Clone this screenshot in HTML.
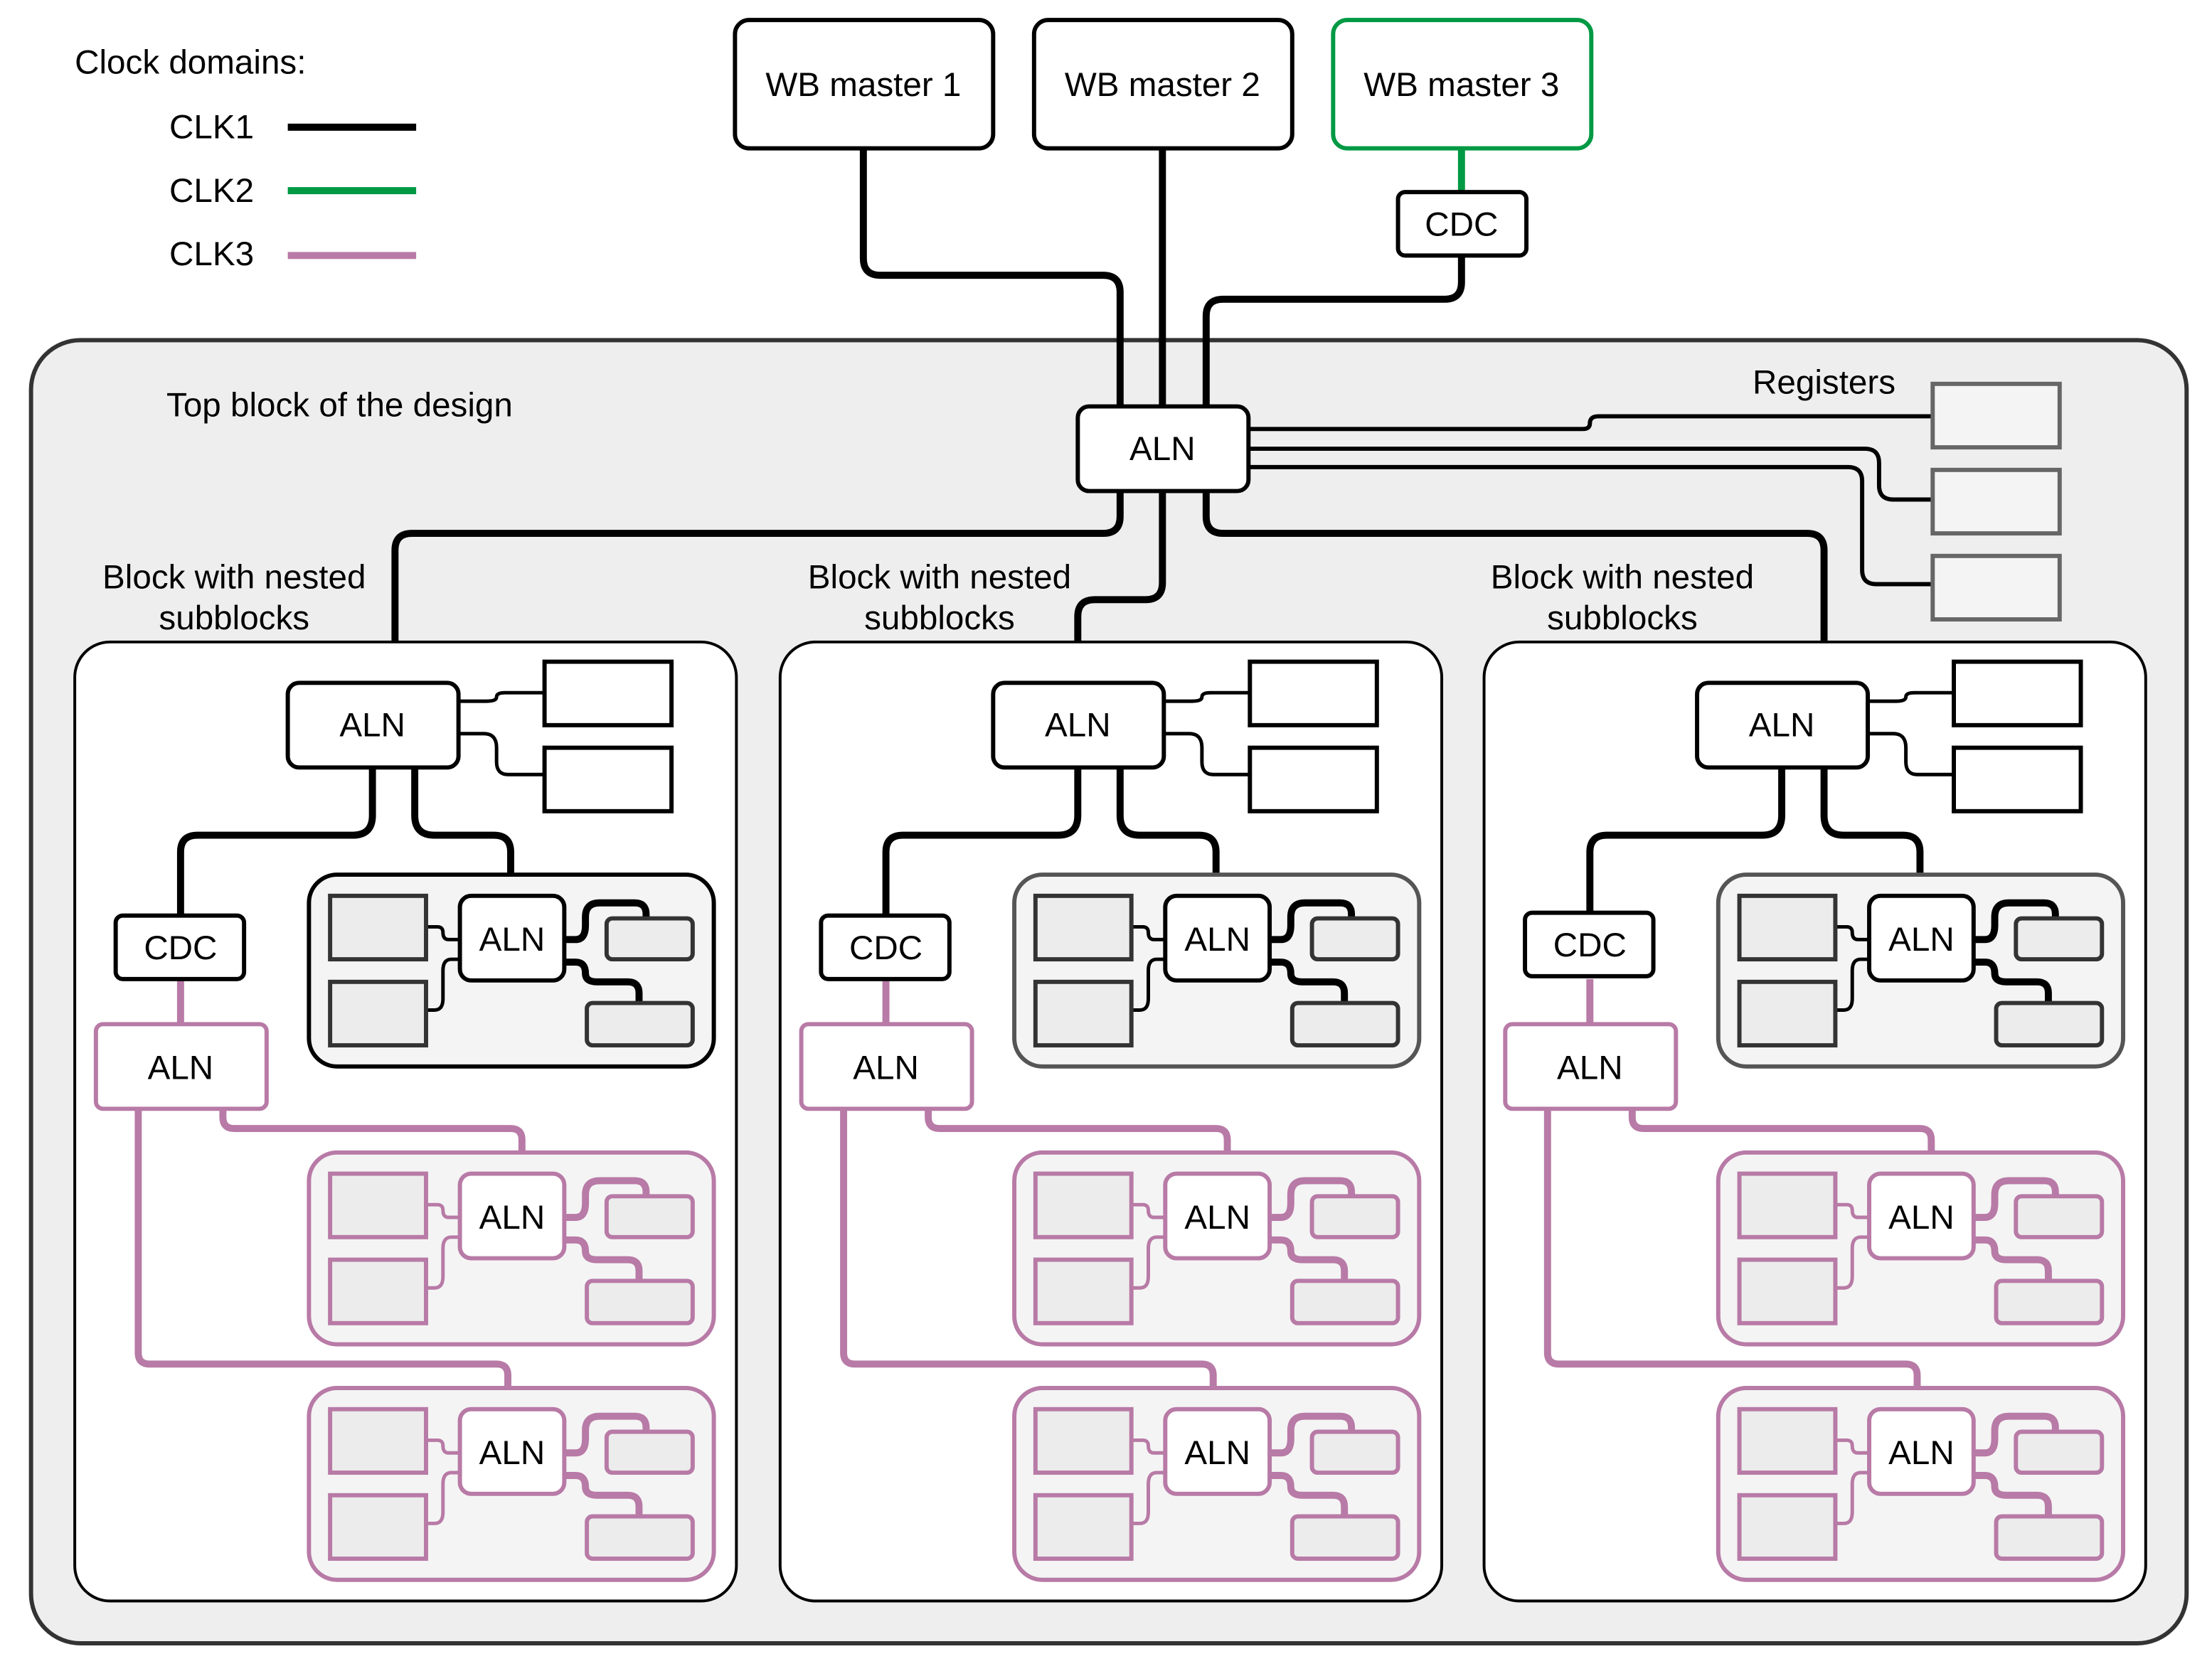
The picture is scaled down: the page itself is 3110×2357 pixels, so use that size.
<!DOCTYPE html>
<html><head><meta charset="utf-8"><style>html,body{margin:0;padding:0;background:#fff}svg{display:block}</style></head>
<body>
<svg xmlns="http://www.w3.org/2000/svg" width="3110" height="2357" viewBox="0 0 1568 1188" font-family="Liberation Sans, sans-serif" font-size="24">
<rect width="1568" height="1188" fill="#fff"/>
<text x="53" y="52">Clock domains:</text>
<text x="120" y="98">CLK1</text><line x1="204" y1="90" x2="295" y2="90" stroke="#000" stroke-width="5"/>
<text x="120" y="143">CLK2</text><line x1="204" y1="135" x2="295" y2="135" stroke="#009944" stroke-width="5"/>
<text x="120" y="188">CLK3</text><line x1="204" y1="181" x2="295" y2="181" stroke="#b87aa6" stroke-width="5"/>
<rect x="22" y="241" width="1528" height="924" rx="35" fill="#eee" stroke="#333" stroke-width="3"/>
<text x="118" y="295">Top block of the design</text>
<text x="1293" y="279" text-anchor="middle">Registers</text>
<g stroke-width="3" fill="#fff">
<rect x="521" y="14" width="183" height="91" rx="10" stroke="#000"/>
<rect x="733" y="14" width="183" height="91" rx="10" stroke="#000"/>
<rect x="945" y="14" width="183" height="91" rx="10" stroke="#009944"/>
</g>
<text x="612" y="68" text-anchor="middle">WB master 1</text>
<text x="824" y="68" text-anchor="middle">WB master 2</text>
<text x="1036" y="68" text-anchor="middle">WB master 3</text>
<line x1="1036" y1="105" x2="1036" y2="136" stroke="#009944" stroke-width="5"/>
<g fill="none" stroke="#000" stroke-width="5">
<path d="M612 105 V183 Q612 195 624 195 H782 Q794 195 794 207 V288"/>
<path d="M824 105 V288"/>
<path d="M1036 181 V200 Q1036 212 1024 212 H867 Q855 212 855 224 V288"/>
<path d="M794 348 V366 Q794 378 782 378 H292 Q280 378 280 390 V484"/>
<path d="M824 348 V413 Q824 425 812 425 H776 Q764 425 764 437 V484"/>
<path d="M855 348 V366 Q855 378 867 378 H1281 Q1293 378 1293 390 V484"/>
</g>
<g fill="none" stroke="#000" stroke-width="3">
<path d="M885 304 H1122 Q1127 304 1127 300 Q1127 295 1133 295 H1370"/>
<path d="M885 318 H1322 Q1332 318 1332 328 V344 Q1332 354 1342 354 H1370"/>
<path d="M885 331 H1310 Q1320 331 1320 341 V404 Q1320 414 1330 414 H1370"/>
</g>
<g fill="#f4f4f4" stroke="#666" stroke-width="3">
<rect x="1370" y="272" width="90" height="45"/><rect x="1370" y="333" width="90" height="45"/><rect x="1370" y="394" width="90" height="45"/>
</g>
<rect x="764" y="288" width="121" height="60" rx="8" fill="#fff" stroke="#000" stroke-width="3"/>
<text x="824" y="326" text-anchor="middle">ALN</text>
<rect x="991" y="136" width="91" height="45" rx="5" fill="#fff" stroke="#000" stroke-width="3"/>
<text x="1036" y="167" text-anchor="middle">CDC</text>

<g>
<rect x="53" y="455" width="469" height="680" rx="25" fill="#fff" stroke="#000" stroke-width="2"/>
<text x="166" y="417" text-anchor="middle">Block with nested</text>
<text x="166" y="446" text-anchor="middle">subblocks</text>
<g fill="none" stroke="#000" stroke-width="2.5">
<path d="M325 497 H345 Q352 497 352 494 Q352 491 358 491 H386"/>
<path d="M325 520 H343 Q352 520 352 530 V540 Q352 549 360 549 H386"/>
</g>
<g fill="#fff" stroke="#000" stroke-width="3"><rect x="386" y="469" width="90" height="45"/><rect x="386" y="530" width="90" height="45"/></g>
<g fill="none" stroke="#000" stroke-width="5">
<path d="M264 544 V578 Q264 592 250 592 H140 Q128 592 128 604 V649"/>
<path d="M294 544 V578 Q294 592 308 592 H350 Q362 592 362 604 V635"/>
</g>
<g fill="none" stroke="#b87aa6" stroke-width="5">
<path d="M128 694 V726"/>
<path d="M158 786 V792 Q158 800 166 800 H362 Q370 800 370 808 V832"/>
<path d="M98 786 V959 Q98 967 106 967 H352 Q360 967 360 975 V998"/>
</g>
<rect x="82" y="649" width="91" height="45" rx="5" fill="#fff" stroke="#000" stroke-width="3"/>
<text x="128" y="680" text-anchor="middle">CDC</text>
<rect x="68" y="726" width="121" height="60" rx="5" fill="#fff" stroke="#b87aa6" stroke-width="3"/>
<text x="128" y="765" text-anchor="middle">ALN</text>
<rect x="204" y="484" width="121" height="60" rx="8" fill="#fff" stroke="#000" stroke-width="3"/>
<text x="264" y="522" text-anchor="middle">ALN</text>
<g>
<rect x="219" y="620" width="287" height="136" rx="20" fill="#f4f4f4" stroke="#000" stroke-width="3"/>
<g fill="none" stroke="#000" stroke-width="2.5"><path d="M302 657 H310 Q314 657 314 661 Q314 666 318 666 H326"/><path d="M302 716 H308 Q314 716 314 708 V688 Q314 680 320 680 H326"/></g>
<g fill="none" stroke="#000" stroke-width="5"><path d="M400 666 H408 Q415 666 415 656 V650 Q415 640 425 640 H450 Q458 640 458 648 V651"/><path d="M400 682 H408 Q415 682 415 690 Q415 696 423 696 H445 Q453 696 453 704 V711"/></g>
<g fill="#ececec" stroke="#333" stroke-width="3"><rect x="234" y="635" width="68" height="45"/><rect x="234" y="696" width="68" height="45"/><rect x="430" y="651" width="61" height="29" rx="4"/><rect x="416" y="711" width="75" height="30" rx="4"/></g>
<rect x="326" y="635" width="74" height="60" rx="8" fill="#fff" stroke="#000" stroke-width="3"/>
<text x="363" y="674" text-anchor="middle">ALN</text>
</g>
<g transform="translate(0,197)" >
<rect x="219" y="620" width="287" height="136" rx="20" fill="#f4f4f4" stroke="#b87aa6" stroke-width="3"/>
<g fill="none" stroke="#b87aa6" stroke-width="2.5"><path d="M302 657 H310 Q314 657 314 661 Q314 666 318 666 H326"/><path d="M302 716 H308 Q314 716 314 708 V688 Q314 680 320 680 H326"/></g>
<g fill="none" stroke="#b87aa6" stroke-width="5"><path d="M400 666 H408 Q415 666 415 656 V650 Q415 640 425 640 H450 Q458 640 458 648 V651"/><path d="M400 682 H408 Q415 682 415 690 Q415 696 423 696 H445 Q453 696 453 704 V711"/></g>
<g fill="#ececec" stroke="#b87aa6" stroke-width="3"><rect x="234" y="635" width="68" height="45"/><rect x="234" y="696" width="68" height="45"/><rect x="430" y="651" width="61" height="29" rx="4"/><rect x="416" y="711" width="75" height="30" rx="4"/></g>
<rect x="326" y="635" width="74" height="60" rx="8" fill="#fff" stroke="#b87aa6" stroke-width="3"/>
<text x="363" y="674" text-anchor="middle">ALN</text>
</g>
<g transform="translate(0,364)">
<rect x="219" y="620" width="287" height="136" rx="20" fill="#f4f4f4" stroke="#b87aa6" stroke-width="3"/>
<g fill="none" stroke="#b87aa6" stroke-width="2.5"><path d="M302 657 H310 Q314 657 314 661 Q314 666 318 666 H326"/><path d="M302 716 H308 Q314 716 314 708 V688 Q314 680 320 680 H326"/></g>
<g fill="none" stroke="#b87aa6" stroke-width="5"><path d="M400 666 H408 Q415 666 415 656 V650 Q415 640 425 640 H450 Q458 640 458 648 V651"/><path d="M400 682 H408 Q415 682 415 690 Q415 696 423 696 H445 Q453 696 453 704 V711"/></g>
<g fill="#ececec" stroke="#b87aa6" stroke-width="3"><rect x="234" y="635" width="68" height="45"/><rect x="234" y="696" width="68" height="45"/><rect x="430" y="651" width="61" height="29" rx="4"/><rect x="416" y="711" width="75" height="30" rx="4"/></g>
<rect x="326" y="635" width="74" height="60" rx="8" fill="#fff" stroke="#b87aa6" stroke-width="3"/>
<text x="363" y="674" text-anchor="middle">ALN</text>
</g>
</g>

<g transform="translate(500,0)">
<rect x="53" y="455" width="469" height="680" rx="25" fill="#fff" stroke="#000" stroke-width="2"/>
<text x="166" y="417" text-anchor="middle">Block with nested</text>
<text x="166" y="446" text-anchor="middle">subblocks</text>
<g fill="none" stroke="#000" stroke-width="2.5"><path d="M325 497 H345 Q352 497 352 494 Q352 491 358 491 H386"/><path d="M325 520 H343 Q352 520 352 530 V540 Q352 549 360 549 H386"/></g>
<g fill="#fff" stroke="#000" stroke-width="3"><rect x="386" y="469" width="90" height="45"/><rect x="386" y="530" width="90" height="45"/></g>
<g fill="none" stroke="#000" stroke-width="5"><path d="M264 544 V578 Q264 592 250 592 H140 Q128 592 128 604 V649"/><path d="M294 544 V578 Q294 592 308 592 H350 Q362 592 362 604 V635"/></g>
<g fill="none" stroke="#b87aa6" stroke-width="5"><path d="M128 694 V726"/><path d="M158 786 V792 Q158 800 166 800 H362 Q370 800 370 808 V832"/><path d="M98 786 V959 Q98 967 106 967 H352 Q360 967 360 975 V998"/></g>
<rect x="82" y="649" width="91" height="45" rx="5" fill="#fff" stroke="#000" stroke-width="3"/>
<text x="128" y="680" text-anchor="middle">CDC</text>
<rect x="68" y="726" width="121" height="60" rx="5" fill="#fff" stroke="#b87aa6" stroke-width="3"/>
<text x="128" y="765" text-anchor="middle">ALN</text>
<rect x="204" y="484" width="121" height="60" rx="8" fill="#fff" stroke="#000" stroke-width="3"/>
<text x="264" y="522" text-anchor="middle">ALN</text>
<g>
<rect x="219" y="620" width="287" height="136" rx="20" fill="#f4f4f4" stroke="#555" stroke-width="3"/>
<g fill="none" stroke="#000" stroke-width="2.5"><path d="M302 657 H310 Q314 657 314 661 Q314 666 318 666 H326"/><path d="M302 716 H308 Q314 716 314 708 V688 Q314 680 320 680 H326"/></g>
<g fill="none" stroke="#000" stroke-width="5"><path d="M400 666 H408 Q415 666 415 656 V650 Q415 640 425 640 H450 Q458 640 458 648 V651"/><path d="M400 682 H408 Q415 682 415 690 Q415 696 423 696 H445 Q453 696 453 704 V711"/></g>
<g fill="#ececec" stroke="#333" stroke-width="3"><rect x="234" y="635" width="68" height="45"/><rect x="234" y="696" width="68" height="45"/><rect x="430" y="651" width="61" height="29" rx="4"/><rect x="416" y="711" width="75" height="30" rx="4"/></g>
<rect x="326" y="635" width="74" height="60" rx="8" fill="#fff" stroke="#000" stroke-width="3"/>
<text x="363" y="674" text-anchor="middle">ALN</text>
</g>
<g transform="translate(0,197)">
<rect x="219" y="620" width="287" height="136" rx="20" fill="#f4f4f4" stroke="#b87aa6" stroke-width="3"/>
<g fill="none" stroke="#b87aa6" stroke-width="2.5"><path d="M302 657 H310 Q314 657 314 661 Q314 666 318 666 H326"/><path d="M302 716 H308 Q314 716 314 708 V688 Q314 680 320 680 H326"/></g>
<g fill="none" stroke="#b87aa6" stroke-width="5"><path d="M400 666 H408 Q415 666 415 656 V650 Q415 640 425 640 H450 Q458 640 458 648 V651"/><path d="M400 682 H408 Q415 682 415 690 Q415 696 423 696 H445 Q453 696 453 704 V711"/></g>
<g fill="#ececec" stroke="#b87aa6" stroke-width="3"><rect x="234" y="635" width="68" height="45"/><rect x="234" y="696" width="68" height="45"/><rect x="430" y="651" width="61" height="29" rx="4"/><rect x="416" y="711" width="75" height="30" rx="4"/></g>
<rect x="326" y="635" width="74" height="60" rx="8" fill="#fff" stroke="#b87aa6" stroke-width="3"/>
<text x="363" y="674" text-anchor="middle">ALN</text>
</g>
<g transform="translate(0,364)">
<rect x="219" y="620" width="287" height="136" rx="20" fill="#f4f4f4" stroke="#b87aa6" stroke-width="3"/>
<g fill="none" stroke="#b87aa6" stroke-width="2.5"><path d="M302 657 H310 Q314 657 314 661 Q314 666 318 666 H326"/><path d="M302 716 H308 Q314 716 314 708 V688 Q314 680 320 680 H326"/></g>
<g fill="none" stroke="#b87aa6" stroke-width="5"><path d="M400 666 H408 Q415 666 415 656 V650 Q415 640 425 640 H450 Q458 640 458 648 V651"/><path d="M400 682 H408 Q415 682 415 690 Q415 696 423 696 H445 Q453 696 453 704 V711"/></g>
<g fill="#ececec" stroke="#b87aa6" stroke-width="3"><rect x="234" y="635" width="68" height="45"/><rect x="234" y="696" width="68" height="45"/><rect x="430" y="651" width="61" height="29" rx="4"/><rect x="416" y="711" width="75" height="30" rx="4"/></g>
<rect x="326" y="635" width="74" height="60" rx="8" fill="#fff" stroke="#b87aa6" stroke-width="3"/>
<text x="363" y="674" text-anchor="middle">ALN</text>
</g>
</g>

<g transform="translate(999,0)">
<rect x="53" y="455" width="469" height="680" rx="25" fill="#fff" stroke="#000" stroke-width="2"/>
<text x="151" y="417" text-anchor="middle">Block with nested</text>
<text x="151" y="446" text-anchor="middle">subblocks</text>
<g fill="none" stroke="#000" stroke-width="2.5"><path d="M325 497 H345 Q352 497 352 494 Q352 491 358 491 H386"/><path d="M325 520 H343 Q352 520 352 530 V540 Q352 549 360 549 H386"/></g>
<g fill="#fff" stroke="#000" stroke-width="3"><rect x="386" y="469" width="90" height="45"/><rect x="386" y="530" width="90" height="45"/></g>
<g fill="none" stroke="#000" stroke-width="5"><path d="M264 544 V578 Q264 592 250 592 H140 Q128 592 128 604 V649"/><path d="M294 544 V578 Q294 592 308 592 H350 Q362 592 362 604 V635"/></g>
<g fill="none" stroke="#b87aa6" stroke-width="5"><path d="M128 694 V726"/><path d="M158 786 V792 Q158 800 166 800 H362 Q370 800 370 808 V832"/><path d="M98 786 V959 Q98 967 106 967 H352 Q360 967 360 975 V998"/></g>
<rect x="82" y="647" width="91" height="45" rx="5" fill="#fff" stroke="#000" stroke-width="3"/>
<text x="128" y="678" text-anchor="middle">CDC</text>
<rect x="68" y="726" width="121" height="60" rx="5" fill="#fff" stroke="#b87aa6" stroke-width="3"/>
<text x="128" y="765" text-anchor="middle">ALN</text>
<rect x="204" y="484" width="121" height="60" rx="8" fill="#fff" stroke="#000" stroke-width="3"/>
<text x="264" y="522" text-anchor="middle">ALN</text>
<g>
<rect x="219" y="620" width="287" height="136" rx="20" fill="#f4f4f4" stroke="#555" stroke-width="3"/>
<g fill="none" stroke="#000" stroke-width="2.5"><path d="M302 657 H310 Q314 657 314 661 Q314 666 318 666 H326"/><path d="M302 716 H308 Q314 716 314 708 V688 Q314 680 320 680 H326"/></g>
<g fill="none" stroke="#000" stroke-width="5"><path d="M400 666 H408 Q415 666 415 656 V650 Q415 640 425 640 H450 Q458 640 458 648 V651"/><path d="M400 682 H408 Q415 682 415 690 Q415 696 423 696 H445 Q453 696 453 704 V711"/></g>
<g fill="#ececec" stroke="#333" stroke-width="3"><rect x="234" y="635" width="68" height="45"/><rect x="234" y="696" width="68" height="45"/><rect x="430" y="651" width="61" height="29" rx="4"/><rect x="416" y="711" width="75" height="30" rx="4"/></g>
<rect x="326" y="635" width="74" height="60" rx="8" fill="#fff" stroke="#000" stroke-width="3"/>
<text x="363" y="674" text-anchor="middle">ALN</text>
</g>
<g transform="translate(0,197)">
<rect x="219" y="620" width="287" height="136" rx="20" fill="#f4f4f4" stroke="#b87aa6" stroke-width="3"/>
<g fill="none" stroke="#b87aa6" stroke-width="2.5"><path d="M302 657 H310 Q314 657 314 661 Q314 666 318 666 H326"/><path d="M302 716 H308 Q314 716 314 708 V688 Q314 680 320 680 H326"/></g>
<g fill="none" stroke="#b87aa6" stroke-width="5"><path d="M400 666 H408 Q415 666 415 656 V650 Q415 640 425 640 H450 Q458 640 458 648 V651"/><path d="M400 682 H408 Q415 682 415 690 Q415 696 423 696 H445 Q453 696 453 704 V711"/></g>
<g fill="#ececec" stroke="#b87aa6" stroke-width="3"><rect x="234" y="635" width="68" height="45"/><rect x="234" y="696" width="68" height="45"/><rect x="430" y="651" width="61" height="29" rx="4"/><rect x="416" y="711" width="75" height="30" rx="4"/></g>
<rect x="326" y="635" width="74" height="60" rx="8" fill="#fff" stroke="#b87aa6" stroke-width="3"/>
<text x="363" y="674" text-anchor="middle">ALN</text>
</g>
<g transform="translate(0,364)">
<rect x="219" y="620" width="287" height="136" rx="20" fill="#f4f4f4" stroke="#b87aa6" stroke-width="3"/>
<g fill="none" stroke="#b87aa6" stroke-width="2.5"><path d="M302 657 H310 Q314 657 314 661 Q314 666 318 666 H326"/><path d="M302 716 H308 Q314 716 314 708 V688 Q314 680 320 680 H326"/></g>
<g fill="none" stroke="#b87aa6" stroke-width="5"><path d="M400 666 H408 Q415 666 415 656 V650 Q415 640 425 640 H450 Q458 640 458 648 V651"/><path d="M400 682 H408 Q415 682 415 690 Q415 696 423 696 H445 Q453 696 453 704 V711"/></g>
<g fill="#ececec" stroke="#b87aa6" stroke-width="3"><rect x="234" y="635" width="68" height="45"/><rect x="234" y="696" width="68" height="45"/><rect x="430" y="651" width="61" height="29" rx="4"/><rect x="416" y="711" width="75" height="30" rx="4"/></g>
<rect x="326" y="635" width="74" height="60" rx="8" fill="#fff" stroke="#b87aa6" stroke-width="3"/>
<text x="363" y="674" text-anchor="middle">ALN</text>
</g>
</g>
</svg>
</body></html>
